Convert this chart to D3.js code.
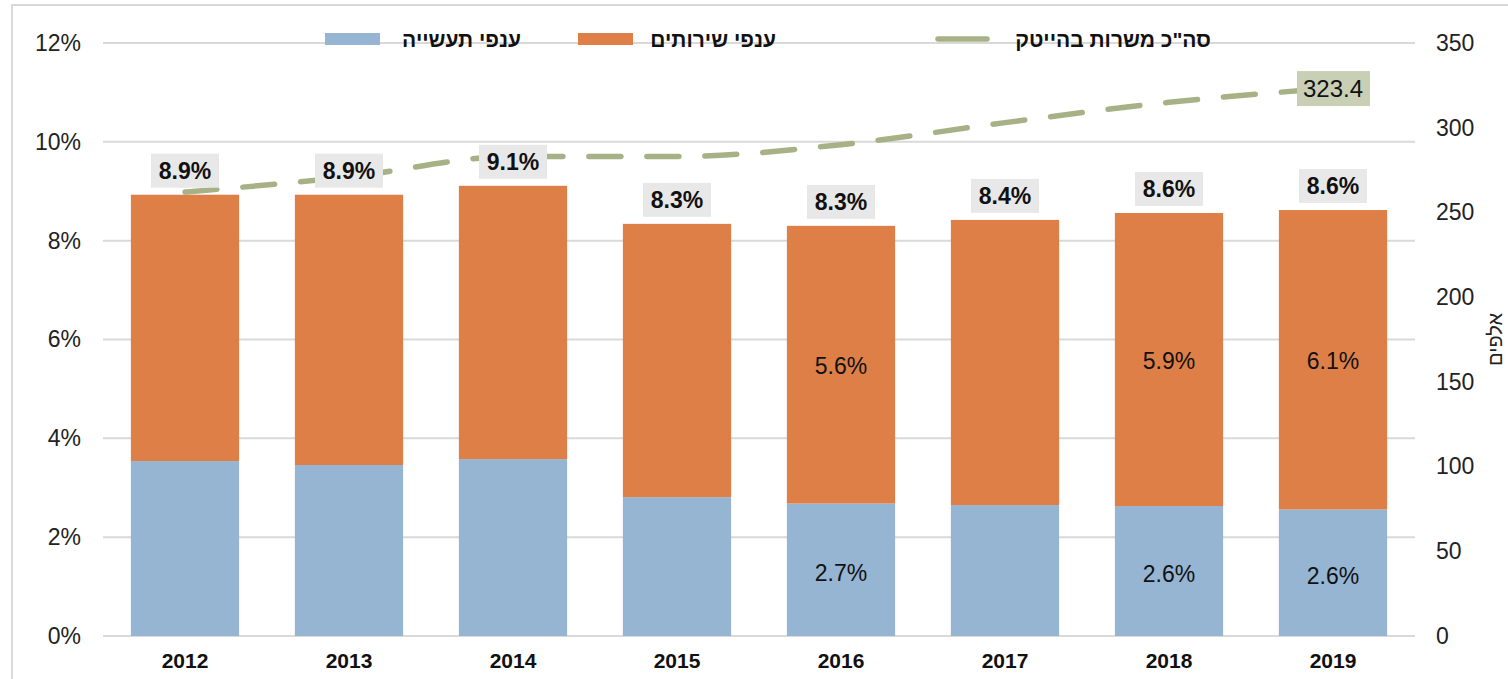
<!DOCTYPE html>
<html>
<head>
<meta charset="utf-8">
<script src="https://cdn.jsdelivr.net/npm/d3@7"></script>
<style>
  body { margin: 0; background: #fff; }
  text { font-family: "Liberation Sans", Arial, sans-serif; }
</style>
</head>
<body>
<div id="chart"></div>
<script>
// data
const years = ["2012", "2013", "2014", "2015", "2016", "2017", "2018", "2019"];
const industry = [3.54, 3.46, 3.58, 2.81, 2.68, 2.65, 2.63, 2.56];   // % ענפי תעשייה
const services = [5.39, 5.47, 5.53, 5.53, 5.62, 5.77, 5.93, 6.06];   // % ענפי שירותים
const hitechJobs = [262, 271, 283, 283, 290, 303, 315, 323.4];      // אלפים
const labelledYears = ["2016", "2018", "2019"];
const leftTicks = [0, 2, 4, 6, 8, 10, 12];
const rightTicks = [0, 50, 100, 150, 200, 250, 300, 350];

const width = 1508, height = 679;
const margin = { top: 43, right: 95, bottom: 43, left: 103 };

const svg = d3.select("#chart").append("svg")
    .attr("width", width)
    .attr("height", height);

// outer frame
svg.append("rect")
    .attr("x", 12).attr("y", 5)
    .attr("width", width).attr("height", height)
    .attr("fill", "none")
    .attr("stroke", "#d9d9d9")
    .attr("stroke-width", 2);

const plotRight = width - margin.right + 2;

const x = d3.scaleBand()
    .domain(years)
    .range([margin.left, plotRight])
    .paddingInner(0.34)
    .paddingOuter(0.17);

const y = d3.scaleLinear()
    .domain([0, 12])
    .range([height - margin.bottom, margin.top]);

const y2 = d3.scaleLinear()
    .domain([0, 350])
    .range([height - margin.bottom, margin.top]);

// gridlines
svg.append("g")
    .selectAll("line")
    .data(leftTicks)
    .join("line")
    .attr("x1", margin.left)
    .attr("x2", plotRight)
    .attr("y1", d => y(d))
    .attr("y2", d => y(d))
    .attr("stroke", "#d9d9d9")
    .attr("stroke-width", 2);

// left axis
const leftAxis = svg.append("g")
    .attr("transform", `translate(${margin.left - 22},0)`)
    .call(d3.axisLeft(y).tickValues(leftTicks).tickSize(0).tickPadding(0).tickFormat(d => d + "%"));
leftAxis.select(".domain").remove();
leftAxis.selectAll("text")
    .attr("font-size", 23)
    .attr("fill", "#222")
    .attr("font-family", "Liberation Sans, Arial, sans-serif");

// right axis
const rightAxis = svg.append("g")
    .attr("transform", `translate(${plotRight + 21},0)`)
    .call(d3.axisRight(y2).tickValues(rightTicks).tickSize(0).tickPadding(0));
rightAxis.select(".domain").remove();
rightAxis.selectAll("text")
    .attr("font-size", 23)
    .attr("fill", "#222")
    .attr("font-family", "Liberation Sans, Arial, sans-serif");

svg.append("text")
    .attr("transform", `translate(1502,${y2(175)}) rotate(-90)`)
    .attr("text-anchor", "middle")
    .attr("font-size", 20)
    .attr("fill", "#222")
    .text("אלפים");

// bottom axis labels
const bottomAxis = svg.append("g")
    .attr("transform", `translate(0,${height - margin.bottom})`)
    .call(d3.axisBottom(x).tickSize(0).tickPadding(17));
bottomAxis.select(".domain").remove();
bottomAxis.selectAll("text")
    .attr("font-size", 21)
    .attr("font-weight", "bold")
    .attr("fill", "#111")
    .attr("font-family", "Liberation Sans, Arial, sans-serif");

const rows = years.map((yr, i) => ({
    year: yr,
    ind: industry[i],
    ser: services[i],
    total: industry[i] + services[i]
}));

// stacked bars
const bars = svg.append("g");
bars.selectAll(".ind")
    .data(rows)
    .join("rect")
    .attr("class", "ind")
    .attr("x", d => x(d.year))
    .attr("width", x.bandwidth())
    .attr("y", d => y(d.ind))
    .attr("height", d => y(0) - y(d.ind))
    .attr("fill", "#95b5d3");

bars.selectAll(".ser")
    .data(rows)
    .join("rect")
    .attr("class", "ser")
    .attr("x", d => x(d.year))
    .attr("width", x.bandwidth())
    .attr("y", d => y(d.total))
    .attr("height", d => y(d.ind) - y(d.total))
    .attr("fill", "#de7f48");

// inside labels
const inner = rows.filter(d => labelledYears.includes(d.year));
bars.selectAll(".indLabel")
    .data(inner)
    .join("text")
    .attr("x", d => x(d.year) + x.bandwidth() / 2)
    .attr("y", d => (y(0) + y(d.ind)) / 2 + 11)
    .attr("text-anchor", "middle")
    .attr("font-size", 23)
    .attr("fill", "#111")
    .text(d => d.ind.toFixed(1) + "%");

bars.selectAll(".serLabel")
    .data(inner)
    .join("text")
    .attr("x", d => x(d.year) + x.bandwidth() / 2)
    .attr("y", d => (y(d.ind) + y(d.total)) / 2 + 9)
    .attr("text-anchor", "middle")
    .attr("font-size", 23)
    .attr("fill", "#111")
    .text(d => d.ser.toFixed(1) + "%");

// line - total hi-tech jobs
const line = d3.line()
    .x((d, i) => x(years[i]) + x.bandwidth() / 2)
    .y(d => y2(d))
    .curve(d3.curveMonotoneX);

svg.append("path")
    .datum(hitechJobs)
    .attr("d", line)
    .attr("fill", "none")
    .attr("stroke", "#a7b185")
    .attr("stroke-width", 5.5)
    .attr("stroke-linecap", "round")
    .attr("stroke-dasharray", "32,26");

// total labels above bars
const totals = svg.append("g");
rows.forEach(d => {
    const cx = x(d.year) + x.bandwidth() / 2;
    const top = y(d.total);
    totals.append("rect")
        .attr("x", cx - 34)
        .attr("y", top - 41)
        .attr("width", 68)
        .attr("height", 34)
        .attr("fill", "#e9e8e8");
    totals.append("text")
        .attr("x", cx)
        .attr("y", top - 16)
        .attr("text-anchor", "middle")
        .attr("font-size", 23)
        .attr("font-weight", "bold")
        .attr("fill", "#111")
        .text(d.total.toFixed(1) + "%");
});

// last value label of the line
const lastI = hitechJobs.length - 1;
const lx = x(years[lastI]) + x.bandwidth() / 2;
const ly = y2(hitechJobs[lastI]);
svg.append("rect")
    .attr("x", lx - 36)
    .attr("y", ly - 17)
    .attr("width", 73)
    .attr("height", 35)
    .attr("fill", "#c9cfb5");
svg.append("text")
    .attr("x", lx)
    .attr("y", ly + 9)
    .attr("text-anchor", "middle")
    .attr("font-size", 24)
    .attr("fill", "#111")
    .text(hitechJobs[lastI].toFixed(1));

// legend
const legend = svg.append("g");
const legendItems = [
    { name: "ענפי תעשייה", type: "rect", color: "#95b5d3", sx: 325, tx: 521 },
    { name: "ענפי שירותים", type: "rect", color: "#de7f48", sx: 578, tx: 776 },
    { name: 'סה"כ משרות בהייטק', type: "line", color: "#a7b185", sx: 935, tx: 1211 }
];
legendItems.forEach(it => {
    if (it.type === "rect") {
        legend.append("rect")
            .attr("x", it.sx).attr("y", 33)
            .attr("width", 55).attr("height", 12)
            .attr("fill", it.color);
    } else {
        legend.append("line")
            .attr("x1", it.sx + 3).attr("x2", it.sx + 52)
            .attr("y1", 39).attr("y2", 39)
            .attr("stroke", it.color)
            .attr("stroke-width", 5.5)
            .attr("stroke-linecap", "round");
    }
    legend.append("text")
        .attr("x", it.tx)
        .attr("y", 47)
        .attr("text-anchor", "end")
        .attr("font-size", 21)
        .attr("font-weight", "bold")
        .attr("fill", "#111")
        .text(it.name);
});
</script>
</body>
</html>
